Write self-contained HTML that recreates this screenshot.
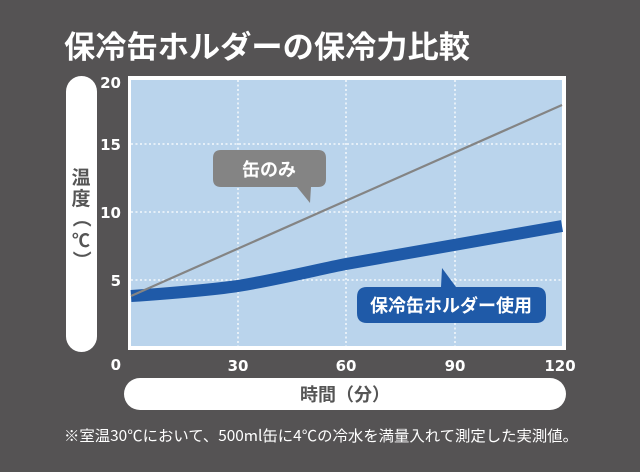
<!DOCTYPE html>
<html><head><meta charset="utf-8"><style>
body{margin:0;width:640px;height:472px;background:#555354;overflow:hidden;font-family:"Liberation Sans","Noto Sans CJK JP",sans-serif;}
</style></head><body>
<svg width="640" height="472" xmlns="http://www.w3.org/2000/svg" style="position:absolute;left:0;top:0">
<text x="64" y="58" fill="#fff" font-size="31" font-weight="bold" font-family="Noto Sans CJK JP,sans-serif" textLength="406" lengthAdjust="spacingAndGlyphs">保冷缶ホルダーの保冷力比較</text>
<rect x="66" y="76" width="31" height="276" rx="15.5" fill="#fff"/>
<text x="81" y="184" fill="#555" font-size="19" font-weight="bold" font-family="Noto Sans CJK JP,sans-serif" text-anchor="middle">温</text>
<text x="81" y="205" fill="#555" font-size="19" font-weight="bold" font-family="Noto Sans CJK JP,sans-serif" text-anchor="middle">度</text>
<text x="81" y="224" fill="#555" font-size="19" font-weight="bold" font-family="Noto Sans CJK JP,sans-serif" text-anchor="middle" transform="rotate(90 81 218)">（</text>
<text x="81" y="247" fill="#555" font-size="18" font-weight="bold" font-family="Noto Sans CJK JP,sans-serif" text-anchor="middle">℃</text>
<text x="81" y="266" fill="#555" font-size="19" font-weight="bold" font-family="Noto Sans CJK JP,sans-serif" text-anchor="middle" transform="rotate(90 81 260)">）</text>
<rect x="128" y="76" width="438" height="274" fill="#fff"/>
<rect x="131" y="80" width="431" height="266" fill="#bad4ec"/>
<g stroke="#fff" stroke-width="1.3" stroke-dasharray="2,2.5">
<line x1="238" y1="80" x2="238" y2="346"/><line x1="346" y1="80" x2="346" y2="346"/><line x1="455" y1="80" x2="455" y2="346"/>
<line x1="131" y1="144" x2="562" y2="144"/><line x1="131" y1="212" x2="562" y2="212"/><line x1="131" y1="280" x2="562" y2="280"/>
</g>
<path d="M131,296 C175,293 210,290 238,286 C280,279 320,269 346,264 C400,254 480,240 562,226" stroke="#1f5aa8" stroke-width="12" fill="none"/>
<line x1="131" y1="296" x2="562" y2="105" stroke="#848484" stroke-width="2.2"/>
<path d="M221,150 H318 Q326,150 326,158 V179 Q326,187 318,187 H311 L310,203 L297,187 H221 Q213,187 213,179 V158 Q213,150 221,150Z" fill="#848484"/>
<text x="269" y="176" fill="#fff" font-size="18" font-weight="bold" font-family="Noto Sans CJK JP,sans-serif" text-anchor="middle">缶のみ</text>
<path d="M367,287 H441 L442,268 L456,287 H536 Q546,287 546,297 V313 Q546,323 536,323 H367 Q357,323 357,313 V297 Q357,287 367,287Z" fill="#1f5aa8"/>
<text x="451" y="312" fill="#fff" font-size="18" font-weight="bold" font-family="Noto Sans CJK JP,sans-serif" text-anchor="middle">保冷缶ホルダー使用</text>
<g fill="#fff" font-size="15" font-weight="bold" font-family="DejaVu Sans,sans-serif">
<text x="121" y="88" text-anchor="end">20</text><text x="121" y="150" text-anchor="end">15</text>
<text x="121" y="218" text-anchor="end">10</text><text x="121" y="286" text-anchor="end">5</text>
<text x="121" y="370" text-anchor="end">0</text>
<text x="238" y="371" text-anchor="middle">30</text><text x="346" y="371" text-anchor="middle">60</text>
<text x="455" y="371" text-anchor="middle">90</text><text x="560" y="371" text-anchor="middle">120</text>
</g>
<rect x="124" y="378" width="442" height="32" rx="16" fill="#fff"/>
<text x="345" y="401" fill="#555" font-size="18" font-weight="bold" font-family="Noto Sans CJK JP,sans-serif" text-anchor="middle">時間（分）</text>
<text x="64" y="441" fill="#fff" font-size="15" font-family="Noto Sans CJK JP,sans-serif" textLength="514" lengthAdjust="spacingAndGlyphs">※室温30℃において、500ml缶に4℃の冷水を満量入れて測定した実測値。</text>
</svg>
</body></html>
